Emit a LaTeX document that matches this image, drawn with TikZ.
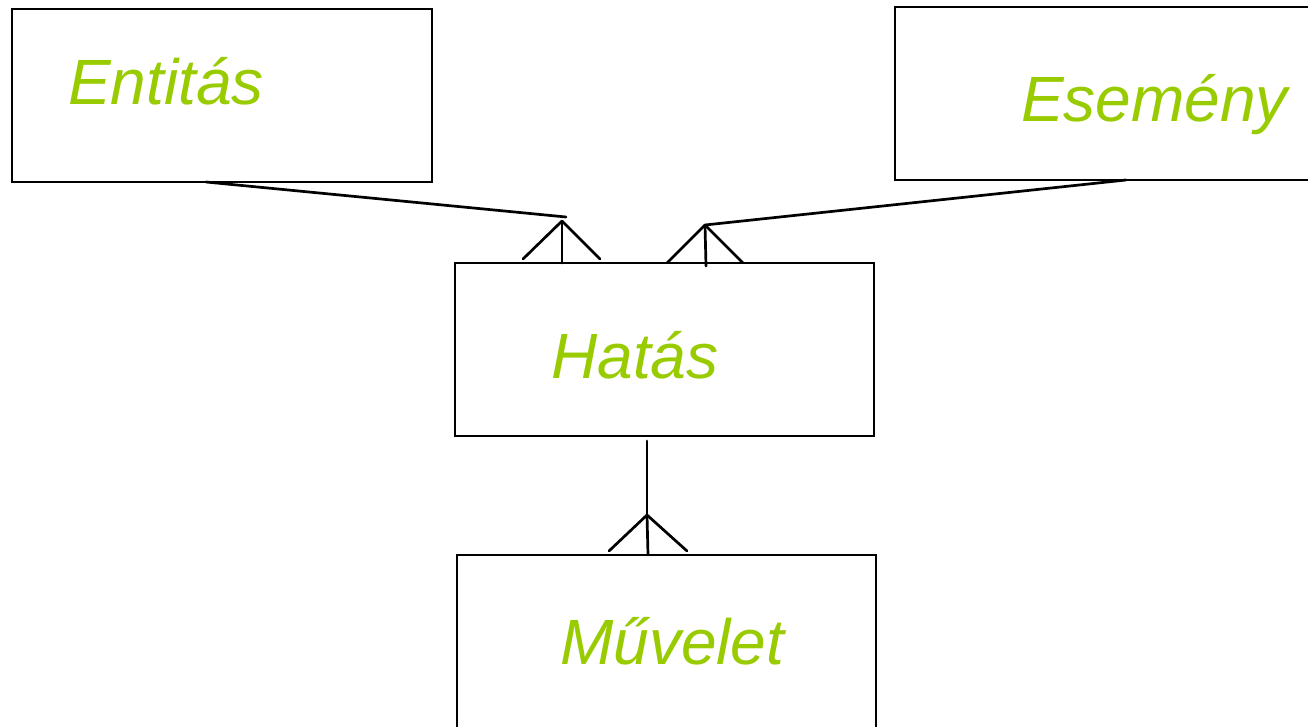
\documentclass[tikz,border=0pt]{standalone}
\usepackage{fontspec}
\setmainfont{Liberation Sans}
\definecolor{labelgreen}{HTML}{99CC00}
\begin{document}
\begin{tikzpicture}[x=1pt,y=-1pt,
  entbox/.style={draw=black,line width=2.5pt,rectangle,inner sep=0pt,outer sep=0pt},
  entlabel/.style={text=labelgreen,font=\fontsize{64}{76}\selectfont\itshape,inner sep=0pt,anchor=base west},
  conn/.style={draw=black,line width=2.7pt,line cap=round}]
\clip (0,0) rectangle (1308,727);
\fill[white] (0,0) rectangle (1308,727);

% entity boxes
\node[entbox,minimum width=420pt,minimum height=173pt] (ent) at (222,95.5) {};
\node[entbox,minimum width=425pt,minimum height=173pt] (ese) at (1107.5,93.5) {};
\node[entbox,minimum width=419pt,minimum height=173pt] (hat) at (664.5,349.5) {};
\node[entbox,minimum width=419pt,minimum height=190pt] (muv) at (666.5,650) {};

% labels
\node[entlabel] (entT) at (68,105) {Entitás};
\node[entlabel] (eseT) at (1021,122) {Esemény};
\node[entlabel] (hatT) at (551,378) {Hatás};
\node[entlabel] (muvT) at (560,664) {Művelet};

% crow's-foot apex points
\coordinate (a1) at (562,221);
\coordinate (a2) at (705,225);
\coordinate (a3) at (647,515);

% Entitás -- Hatás
\draw[conn] ([xshift=194pt]ent.south west) -- (566,217);
\draw[conn] (a1) -- (a1 |- hat.north);
\draw[conn] (a1) -- ([xshift=68pt,yshift=4pt]hat.north west);
\draw[conn] (a1) -- ([xshift=145pt,yshift=4pt]hat.north west);

% Esemény -- Hatás
\draw[conn] ([xshift=231pt]ese.south west) -- (a2);
\draw[conn] (a2) -- ([xshift=251pt,yshift=-3pt]hat.north west);
\draw[conn] (a2) -- ([xshift=212pt]hat.north west);
\draw[conn] (a2) -- ([xshift=288pt]hat.north west);

% Hatás -- Művelet
\draw[conn] ([yshift=-5pt]a3 |- hat.south) -- (a3);
\draw[conn] (a3) -- ([xshift=191pt]muv.north west);
\draw[conn] (a3) -- ([xshift=152pt,yshift=4pt]muv.north west);
\draw[conn] (a3) -- ([xshift=230pt,yshift=4pt]muv.north west);
\end{tikzpicture}
\end{document}
